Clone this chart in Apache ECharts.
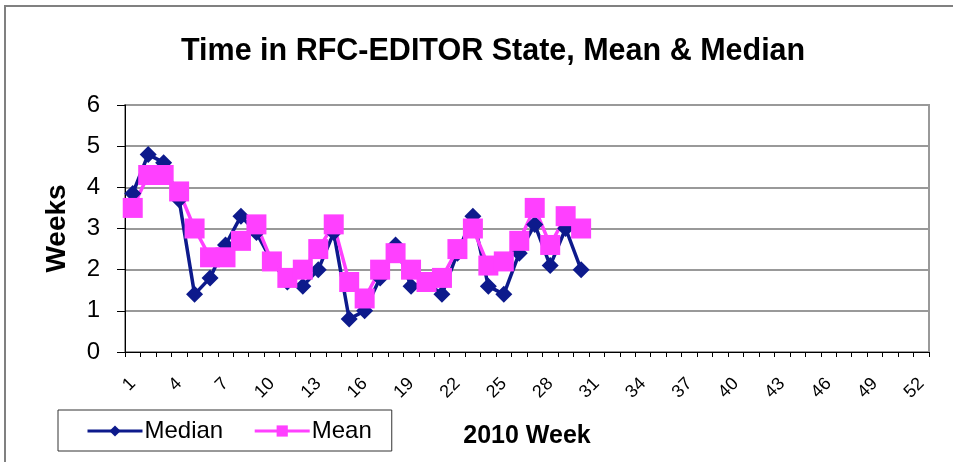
<!DOCTYPE html>
<html>
<head>
<meta charset="utf-8">
<script src="https://cdn.jsdelivr.net/npm/echarts@6/dist/echarts.min.js"></script>
<style>
html,body{margin:0;padding:0;background:#fff;}
#chart{width:953px;height:462px;}
</style>
</head>
<body>
<div id="chart"></div>
<script>
const weeks = Array.from({length: 52}, (_, i) => String(i + 1));
const median = [3.85, 4.8, 4.6, 3.7, 1.4, 1.8, 2.6, 3.3, 2.9, 2.2, 1.7, 1.6, 2.0, 2.9, 0.8,
                1.0, 1.8, 2.6, 1.6, 1.7, 1.4, 2.4, 3.3, 1.6, 1.4, 2.4, 3.1, 2.1, 3.0, 2.0];
const mean = [3.5, 4.3, 4.3, 3.9, 3.0, 2.3, 2.3, 2.7, 3.1, 2.2, 1.8, 2.0, 2.5, 3.1, 1.7,
              1.3, 2.0, 2.4, 2.0, 1.7, 1.8, 2.5, 3.0, 2.1, 2.2, 2.7, 3.5, 2.6, 3.3, 3.0];
const yTicks = [0, 1, 2, 3, 4, 5, 6];

const font = '"Liberation Sans", Arial, sans-serif';
const chart = echarts.init(document.getElementById('chart'), null, {renderer: 'canvas'});
chart.setOption({
  animation: false,
  backgroundColor: '#fff',
  textStyle: {fontFamily: font},
  title: {
    text: 'Time in RFC-EDITOR State, Mean & Median',
    left: 176, top: 31,
    textStyle: {fontFamily: font, fontSize: 30.5, fontWeight: 'bold', color: '#000'}
  },
  graphic: [{
    type: 'rect', shape: {x: 5, y: 6, width: 1000, height: 500},
    style: {fill: 'none', stroke: '#808080', lineWidth: 2}, z: -1
  }],
  legend: {
    left: 58, top: 410,
    padding: [9, 20, 8, 28],
    itemGap: 30,
    itemWidth: 55, itemHeight: 14,
    borderColor: '#333', borderWidth: 1,
    lineStyle: {width: 3},
    textStyle: {fontFamily: font, fontSize: 24, color: '#000', padding: [0, 0, 0, -3]},
    data: ['Median', 'Mean']
  },
  grid: {
    left: 125, right: 24, top: 105, bottom: 110,
    outerBoundsMode: 'none',
    show: true, borderColor: '#999', borderWidth: 2, containLabel: false
  },
  xAxis: {
    type: 'category', data: weeks, boundaryGap: true,
    name: '2010 Week', nameLocation: 'middle', nameGap: 72,
    nameTextStyle: {fontFamily: font, fontSize: 25, fontWeight: 'bold', color: '#000'},
    axisLine: {lineStyle: {color: '#000', width: 1}},
    axisTick: {show: true, interval: 0, length: 5, lineStyle: {color: '#000'}},
    axisLabel: {interval: 2, rotate: 45, fontSize: 18, color: '#000', margin: 29, fontFamily: font},
    splitLine: {show: false}
  },
  yAxis: {
    type: 'value', min: 0, max: 6, interval: 1,
    name: 'Weeks', nameLocation: 'middle', nameGap: 54, nameRotate: 90,
    nameTextStyle: {fontFamily: font, fontSize: 28, fontWeight: 'bold', color: '#000'},
    axisLine: {show: true, lineStyle: {color: '#000', width: 1}},
    axisTick: {show: true, length: 8, lineStyle: {color: '#000'}},
    axisLabel: {fontSize: 24, color: '#000', margin: 25, fontFamily: font,
                formatter: v => yTicks.includes(v) ? String(v) : ''},
    splitLine: {show: true, lineStyle: {color: '#999', width: 2}}
  },
  series: [
    {
      name: 'Median', type: 'line', data: median,
      symbol: 'diamond', symbolSize: 17, showSymbol: true, showAllSymbol: true,
      itemStyle: {color: '#0D1A8C'},
      lineStyle: {color: '#0D1A8C', width: 3.5}
    },
    {
      name: 'Mean', type: 'line', data: mean,
      symbol: 'rect', symbolSize: 20, showSymbol: true, showAllSymbol: true,
      itemStyle: {color: '#FF40FF'},
      lineStyle: {color: '#FF40FF', width: 3.5}
    }
  ]
});
</script>
</body>
</html>
